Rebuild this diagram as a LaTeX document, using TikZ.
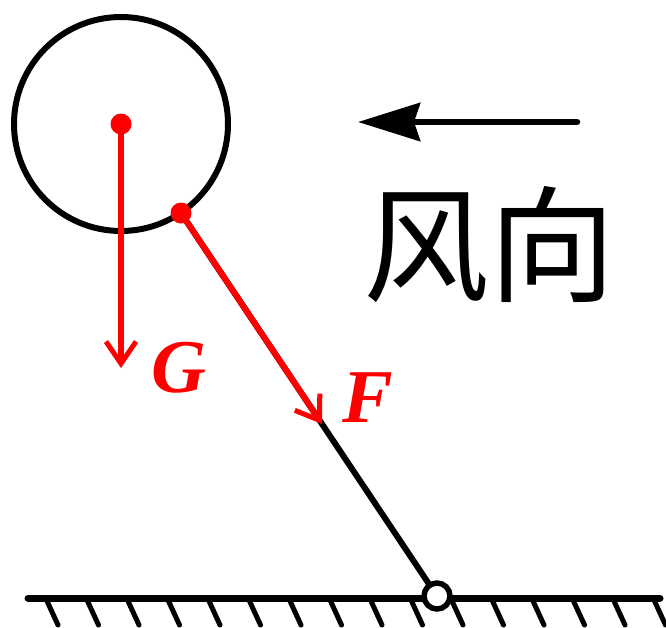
\documentclass[tikz,border=0pt]{standalone}
\usepackage{fontspec}
\setmainfont{Liberation Serif}
\newfontfamily\cjk{Noto Sans CJK SC}
\usetikzlibrary{arrows.meta,calc}
\definecolor{fred}{RGB}{255,0,0}
\tikzset{
  blk/.style={line width=6pt,black,line cap=round},
  force/.style={line width=6pt,fred,-{Straight Barb[length=22pt,width=30pt,line width=5pt]}},
  dotr/.style={circle,fill=fred,inner sep=0pt,minimum size=21pt},
  lab/.style={text=fred,font=\fontsize{76}{76}\selectfont\bfseries\itshape,inner sep=0pt},
  hatch/.style={line width=5pt,black,line cap=round}
}
\begin{document}
\begin{tikzpicture}[x=1pt,y=-1pt]
\useasboundingbox (0,0) rectangle (666,627);
% ball
\coordinate (C) at (121,124);
\draw[line width=6pt] (C) circle[radius=107];
\coordinate (P) at (181,213);
\coordinate (T) at (437,596);
\coordinate (Ftip) at (322,424);
% stick
\draw[blk] (P) -- (T);
% ground
\coordinate (g1) at (28,598);
\coordinate (g2) at (660,598);
\draw[line width=7pt,line cap=round] (g1) -- (g2);
\foreach \i in {0,...,15}{
  \draw[hatch] ({47+40.5*\i},601) -- ++(11,24);
}
\node[circle,draw,line width=5.5pt,fill=white,minimum size=26pt,inner sep=0pt] (pivot) at (T) {};
% forces
\draw[force] (C) -- (121,368);
\draw[force] (P) -- (Ftip);
\node[dotr] (c0) at (C) {};
\node[dotr] (p0) at (P) {};
\node[lab] (G) at (179,368) {G};
\node[lab] (F) at (368,398) {F};
% wind
\coordinate (w1) at (577,122);
\coordinate (w2) at (358,122);
\draw[line width=6.5pt,line cap=round,-{Stealth[length=62pt,width=38pt,inset=6pt]}] (w1) -- (w2);
\node[font=\cjk\fontsize{126}{126}\selectfont,inner sep=0pt] (wind) at (489,245) {风向};
\end{tikzpicture}
\end{document}
